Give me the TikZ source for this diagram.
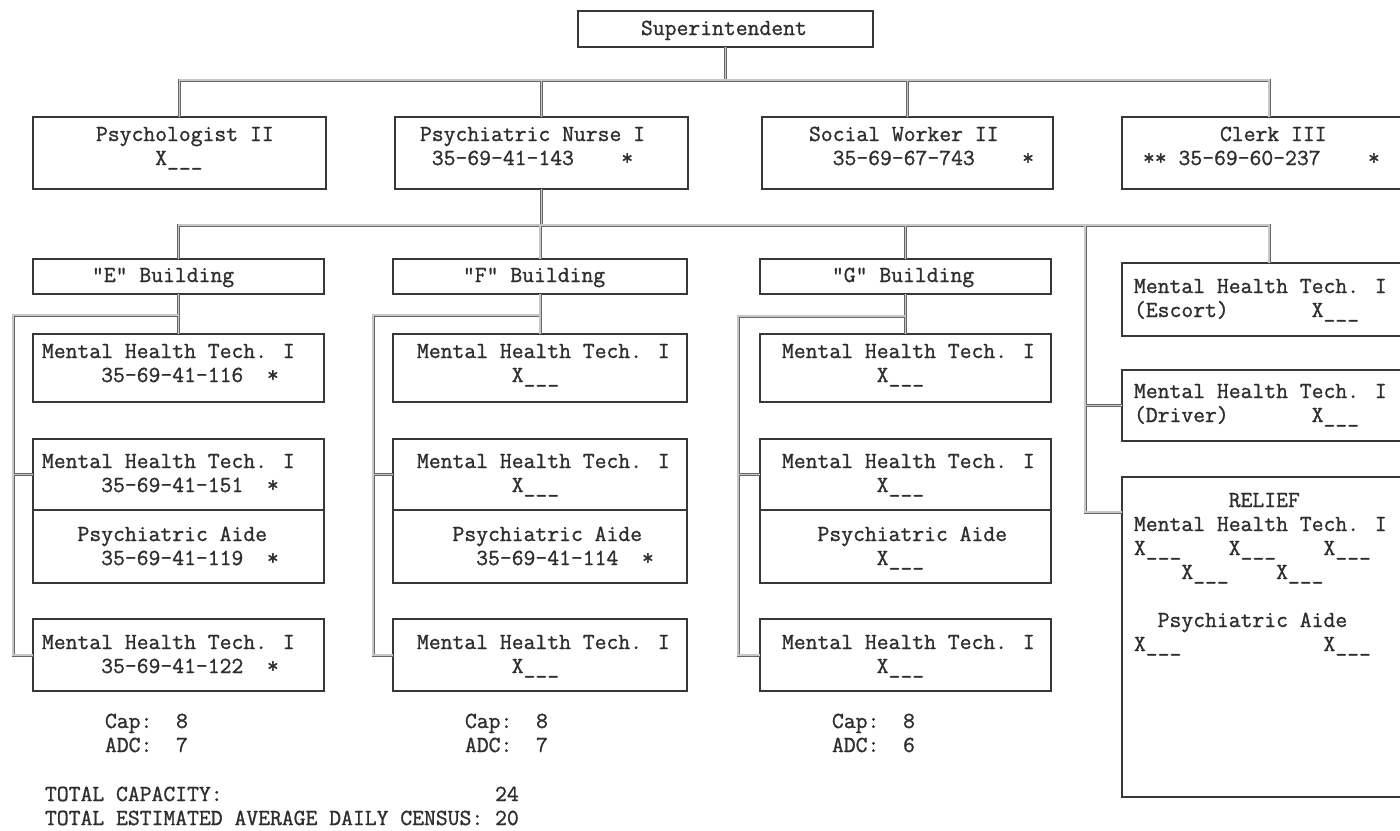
\documentclass[tikz,border=0pt]{standalone}
\usepackage{tikz}
\usepackage{fontspec}
% typewriter face, slightly heavier strokes like ribbon type
\newfontfamily\typer{Latin Modern Mono}[RawFeature={embolden=1.1}]

% one typewriter cell = width of a digit in the current font
\newcommand\sk[1]{\hspace*{#1\fontcharwd\font`0}}
% left-aligned block of lines; the block's baseline is the first line's
\newcommand\para[1]{\vtop{\baselineskip=24pt\lineskiplimit=-100pt\lineskip=0pt\halign{##\hfil\cr#1\crcr}}}
\newcommand\blank{X\_\_\_}
% box from (x1,y1) to (x2,y2), y counted downwards
\newcommand\bx[5]{\pgfmathsetmacro\bw{#4-#2}\pgfmathsetmacro\bh{#5-#3}%
  \node[box,minimum width=\bw pt,minimum height=\bh pt] (#1) at (#2,#3) {};}
\newcommand\tx[4]{\node[txt] (#1) at (#2,#3) {\para{#4}};}

% all connecting lines of the chart
\newcommand\wiring{%
  \draw[wire] (sup.south) -- (sup.south |- b1);
  \draw[wire] (psy.north) -- (psy.north |- b1) -- (clk.north |- b1) -- (clk.north);
  \draw[wire] (nur.north) -- (nur.north |- b1);
  \draw[wire] (soc.north) -- (soc.north |- b1);
  \draw[wire] (nur.south) -- (nur.south |- b2);
  \draw[wire] (eb.north) -- (eb.north |- b2) -- (esc.north |- b2) -- (esc.north);
  \draw[wire] (fb.north) -- (fb.north |- b2);
  \draw[wire] (gb.north) -- (gb.north |- b2);
  \draw[wire] (spine) -- (spine |- rtee) -- (rtee);
  \draw[wire] (spine |- drv.west) -- (drv.west);
  % "E" building
  \draw[wire] (eb.south) -- (ea.north);
  \draw[wire] (eb.south |- ek) -- (ek) -- (ek |- ez.west) -- (ez.west);
  \draw[wire] (ek |- eca.west) -- (eca.west);
  % "F" building
  \draw[wire] (fb.south) -- (fa.north);
  \draw[wire] (fb.south |- fk) -- (fk) -- (fk |- fz.west) -- (fz.west);
  \draw[wire] (fk |- fca.west) -- (fca.west);
  % "G" building
  \draw[wire] (gb.south) -- (ga.north);
  \draw[wire] (gb.south |- gk) -- (gk) -- (gk |- gz.west) -- (gz.west);
  \draw[wire] (gk |- gca.west) -- (gca.west);
}

\begin{document}
\begin{tikzpicture}[x=1pt,y=-1pt,
  box/.style={draw=black!78,line width=1.1pt,inner sep=0pt,outer sep=0pt,anchor=north west},
  txt/.style={font=\fontsize{23}{24}\selectfont\typer,text=black!82,inner sep=0pt,outer sep=0pt,anchor=base west},
  wire/.style={line width=3pt,draw=black!60}]
\useasboundingbox (0,0) rectangle (1400,830);
\fill[white] (0,0) rectangle (1400,830);

% boxes
\bx{sup}{578}{11}{873}{47}
\bx{psy}{33}{117}{326}{189}
\bx{nur}{395}{117}{688}{189}
\bx{soc}{762}{117}{1053}{189}
\bx{clk}{1122}{117}{1416}{189}
\bx{eb}{33}{259}{324}{294}
\bx{fb}{393}{259}{687}{294}
\bx{gb}{760}{259}{1051}{294}
\bx{ea}{33}{334}{324}{402}
\bx{eca}{33}{439}{324}{510}
\bx{ecb}{33}{510}{324}{583}
\bx{ez}{33}{619}{324}{691}
\bx{fa}{393}{334}{687}{402}
\bx{fca}{393}{439}{687}{510}
\bx{fcb}{393}{510}{687}{583}
\bx{fz}{393}{619}{687}{691}
\bx{ga}{760}{334}{1051}{402}
\bx{gca}{760}{439}{1051}{510}
\bx{gcb}{760}{510}{1051}{583}
\bx{gz}{760}{619}{1051}{691}
\bx{esc}{1122}{263}{1416}{336}
\bx{drv}{1122}{370}{1416}{441}
\bx{rel}{1122}{477}{1416}{797}

% bus levels and bracket corners
\coordinate (b1) at (0,80);
\coordinate (b2) at (0,225);
\coordinate (ek) at (13,315);
\coordinate (fk) at (373,315);
\coordinate (gk) at (738,316);
\coordinate (spine) at (1085,225);
\coordinate (rtee) at ([yshift=-35pt]rel.north west);

% double-ruled connectors: dark edge pass, then light core pass
\wiring
\tikzset{wire/.style={line width=1.2pt,draw=black!22}}
\wiring

% texts
\tx{supt}{641}{35}{Superintendent}
\tx{psyt}{96}{141}{Psychologist II\cr\sk{5}\blank}
\tx{nurt}{420}{141}{Psychiatric Nurse I\cr\sk{1}35-69-41-143\sk{4}*}
\tx{soct}{809}{141}{Social Worker II\cr\sk{2}35-69-67-743\sk{4}*}
\tx{clkt}{1143}{141}{\sk{6.5}Clerk III\cr**\sk{1}35-69-60-237\sk{4}*}

\tx{ebt}{92}{282}{"E" Building}
\tx{fbt}{463}{282}{"F" Building}
\tx{gbt}{832}{282}{"G" Building}

\tx{eat}{42}{358}{Mental Health Tech. I\cr\sk{5}35-69-41-116\sk{2}*}
\tx{ecat}{42}{468}{Mental Health Tech. I\cr\sk{5}35-69-41-151\sk{2}*}
\tx{ecbt}{42}{541}{\sk{3}Psychiatric Aide\cr\sk{5}35-69-41-119\sk{2}*}
\tx{ezt}{42}{649}{Mental Health Tech. I\cr\sk{5}35-69-41-122\sk{2}*}

\tx{fat}{417}{358}{Mental Health Tech. I\cr\sk{8}\blank}
\tx{fcat}{417}{468}{Mental Health Tech. I\cr\sk{8}\blank}
\tx{fcbt}{417}{541}{\sk{3}Psychiatric Aide\cr\sk{5}35-69-41-114\sk{2}*}
\tx{fzt}{417}{649}{Mental Health Tech. I\cr\sk{8}\blank}

\tx{gat}{782}{358}{Mental Health Tech. I\cr\sk{8}\blank}
\tx{gcat}{782}{468}{Mental Health Tech. I\cr\sk{8}\blank}
\tx{gcbt}{782}{541}{\sk{3}Psychiatric Aide\cr\sk{8}\blank}
\tx{gzt}{782}{649}{Mental Health Tech. I\cr\sk{8}\blank}

\tx{esct}{1134}{293}{Mental Health Tech. I\cr(Escort)\sk{7}\blank}
\tx{drvt}{1134}{398}{Mental Health Tech. I\cr(Driver)\sk{7}\blank}
\tx{relt}{1134}{507}{\sk{8}RELIEF\cr Mental Health Tech. I\cr
  \blank\sk{4}\blank\sk{4}\blank\cr \sk{4}\blank\sk{4}\blank\cr\cr
  \sk{2}Psychiatric Aide\cr \blank\sk{12}\blank}

\tx{ecap}{105}{728}{Cap:\sk{2}8\cr ADC:\sk{2}7}
\tx{fcap}{465}{728}{Cap:\sk{2}8\cr ADC:\sk{2}7}
\tx{gcap}{832}{728}{Cap:\sk{2}8\cr ADC:\sk{2}6}
\tx{tot}{45}{801}{TOTAL CAPACITY:\sk{23}24\cr TOTAL ESTIMATED AVERAGE DAILY CENSUS: 20}
\end{tikzpicture}
\end{document}
